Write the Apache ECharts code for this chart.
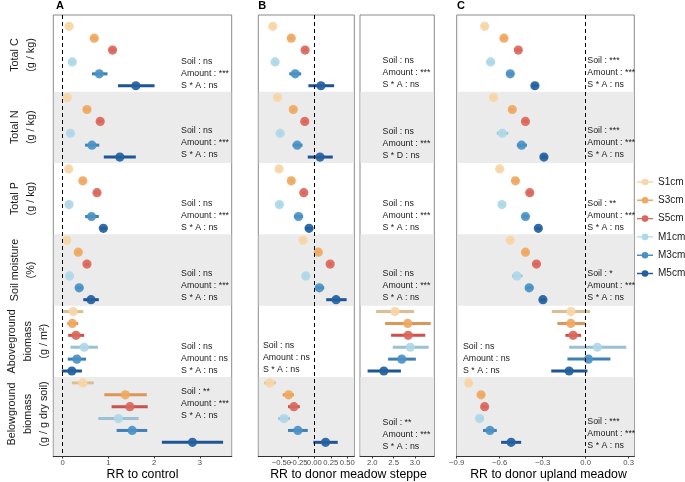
<!DOCTYPE html>
<html><head><meta charset="utf-8">
<script src="https://cdn.jsdelivr.net/npm/echarts@6/dist/echarts.min.js"></script>
<style>html,body{margin:0;padding:0;background:#fff}#c{width:685px;height:482px}</style>
</head><body><div id="c"></div>
<script>
// ---------------- data ----------------
const groups = ['S1cm', 'S3cm', 'S5cm', 'M1cm', 'M3cm', 'M5cm'];
const variables = ['Total C', 'Total N', 'Total P', 'Soil moisture', 'Aboveground biomass', 'Belowground biomass'];
const yLabelLines = [
  ['Total C', '(g / kg)'],
  ['Total N', '(g / kg)'],
  ['Total P', '(g / kg)'],
  ['Soil moisture', '(%)'],
  ['Aboveground', 'biomass', '(g / m\u00B2)'],
  ['Belowground', 'biomass', '(g / g dry soil)']
];

// Panel A: RR to control  (rows = variables, columns = groups)
const A_mean = [
  [0.14, 0.69, 1.09, 0.21, 0.80, 1.60],
  [0.10, 0.53, 0.82, 0.17, 0.64, 1.25],
  [0.13, 0.44, 0.75, 0.14, 0.63, 0.89],
  [0.09, 0.34, 0.53, 0.15, 0.36, 0.62],
  [0.23, 0.21, 0.29, 0.47, 0.31, 0.20],
  [0.44, 1.37, 1.47, 1.22, 1.52, 2.84]
];
const A_lo = [
  [0.10, 0.62, 1.02, 0.16, 0.64, 1.21],
  [0.06, 0.46, 0.75, 0.12, 0.49, 0.90],
  [0.09, 0.38, 0.69, 0.10, 0.49, 0.82],
  [0.05, 0.29, 0.48, 0.10, 0.28, 0.45],
  [0.01, 0.10, 0.12, 0.17, 0.11, -0.02],
  [0.20, 0.91, 1.07, 0.78, 1.18, 2.17]
];
const A_hi = [
  [0.18, 0.76, 1.16, 0.26, 0.98, 2.01],
  [0.14, 0.60, 0.89, 0.22, 0.80, 1.60],
  [0.17, 0.50, 0.81, 0.18, 0.79, 0.96],
  [0.13, 0.39, 0.58, 0.20, 0.45, 0.79],
  [0.45, 0.34, 0.47, 0.77, 0.51, 0.42],
  [0.68, 1.84, 1.86, 1.66, 1.85, 3.51]
];
// Panel B: RR to donor meadow steppe (values >= 1.5 sit on the broken right axis)
const B_mean = [
  [-0.63, -0.35, -0.14, -0.595, -0.29, 0.10],
  [-0.56, -0.32, -0.145, -0.52, -0.26, 0.086],
  [-0.535, -0.35, -0.16, -0.53, -0.24, -0.08],
  [-0.17, 0.06, 0.24, -0.13, 0.076, 0.33],
  [2.53, 2.83, 2.84, 2.89, 2.69, 2.27],
  [-0.675, -0.39, -0.31, -0.46, -0.25, 0.17]
];
const B_lo = [
  [-0.66, -0.38, -0.17, -0.625, -0.38, -0.09],
  [-0.59, -0.35, -0.175, -0.55, -0.33, -0.10],
  [-0.565, -0.38, -0.19, -0.56, -0.31, -0.14],
  [-0.20, 0.03, 0.21, -0.16, 0.01, 0.18],
  [2.09, 2.30, 2.44, 2.48, 2.37, 1.89],
  [-0.76, -0.48, -0.40, -0.55, -0.40, -0.015]
];
const B_hi = [
  [-0.60, -0.32, -0.11, -0.565, -0.20, 0.30],
  [-0.53, -0.29, -0.115, -0.49, -0.18, 0.28],
  [-0.505, -0.32, -0.13, -0.50, -0.17, -0.02],
  [-0.14, 0.09, 0.27, -0.10, 0.15, 0.49],
  [2.98, 3.37, 3.24, 3.32, 3.02, 2.67],
  [-0.585, -0.31, -0.22, -0.37, -0.10, 0.355]
];
// Panel C: RR to donor upland meadow
const C_mean = [
  [-0.705, -0.57, -0.47, -0.663, -0.526, -0.354],
  [-0.643, -0.512, -0.42, -0.582, -0.447, -0.291],
  [-0.60, -0.49, -0.39, -0.584, -0.42, -0.33],
  [-0.526, -0.42, -0.343, -0.48, -0.394, -0.298],
  [-0.103, -0.103, -0.087, 0.082, 0.02, -0.115],
  [-0.817, -0.73, -0.705, -0.74, -0.668, -0.52]
];
const C_lo = [
  [-0.725, -0.59, -0.49, -0.69, -0.55, -0.375],
  [-0.663, -0.532, -0.44, -0.62, -0.48, -0.311],
  [-0.62, -0.51, -0.41, -0.604, -0.44, -0.35],
  [-0.546, -0.44, -0.363, -0.514, -0.42, -0.318],
  [-0.236, -0.197, -0.141, -0.115, -0.127, -0.24],
  [-0.84, -0.747, -0.725, -0.765, -0.716, -0.59]
];
const C_hi = [
  [-0.685, -0.55, -0.45, -0.636, -0.502, -0.333],
  [-0.623, -0.492, -0.40, -0.54, -0.41, -0.271],
  [-0.58, -0.47, -0.37, -0.564, -0.40, -0.31],
  [-0.506, -0.40, -0.323, -0.44, -0.364, -0.278],
  [0.031, -0.003, -0.031, 0.284, 0.173, 0.013],
  [-0.79, -0.707, -0.685, -0.71, -0.62, -0.45]
];

// significance annotations (per variable: Soil, Amount, interaction)
const A_ann = [
  ['Soil : ns', 'Amount : ***', 'S * A : ns'],
  ['Soil : ns', 'Amount : ***', 'S * A : ns'],
  ['Soil : ns', 'Amount : ***', 'S * A : ns'],
  ['Soil : ns', 'Amount : ***', 'S * A : ns'],
  ['Soil : ns', 'Amount : ns', 'S * A : ns'],
  ['Soil : **', 'Amount : ***', 'S * A : ns']
];
const B_ann = [
  ['Soil : ns', 'Amount : ***', 'S * A : ns'],
  ['Soil : ns', 'Amount : ***', 'S * D : ns'],
  ['Soil : ns', 'Amount : ***', 'S * A : ns'],
  ['Soil : ns', 'Amount : ***', 'S * A : ns'],
  ['Soil : ns', 'Amount : ns', 'S * A : ns'],
  ['Soil : **', 'Amount : ***', 'S * A : ns']
];
const C_ann = [
  ['Soil : ***', 'Amount : ***', 'S * A : ns'],
  ['Soil : ***', 'Amount : ***', 'S * A : ns'],
  ['Soil : **', 'Amount : ***', 'S * A : ns'],
  ['Soil : *', 'Amount : ***', 'S * A : ns'],
  ['Soil : ns', 'Amount : ns', 'S * A : ns'],
  ['Soil : ***', 'Amount : ***', 'S * A : ns']
];
const A_annX = [2.59, 2.59, 2.59, 2.59, 2.59, 2.59];
const B_annX = [2.24, 2.24, 2.24, 2.24, -0.78, 2.24];
const C_annX = [0.012, 0.012, 0.012, 0.012, -0.856, 0.012];
const A_annY = [3.98, 9.78, 15.95, 21.81, 27.95, 31.74];
const B_annY = [3.89, 9.83, 15.95, 21.78, 27.9, 34.35];
const C_annY = [3.92, 9.78, 15.95, 21.78, 27.95, 34.26];

const ticksA = [0, 1, 2, 3];
const ticksB1 = [-0.5, -0.25, 0, 0.25, 0.5];
const ticksB1_main = [-0.5, 0, 0.25, 0.5];
const ticksB1_extra = [-0.25];
const ticksB2 = [2.0, 2.5, 3.0];
const ticksC = [-0.9, -0.6, -0.3, 0, 0.3];

// ---------------- styles ----------------
const ptColors = ['#F7D6A6', '#F0A862', '#DB675C', '#AFD8E8', '#4A92C6', '#22609F'];
const barColors = ['#DDBD93', '#DC9655', '#C9524B', '#9AC2D2', '#3E80B4', '#1E5694'];
const FONT = 'Liberation Sans, Arial, Helvetica, sans-serif';
const Y_MIN = 0.05, Y_MAX = 37.15;

const panels = [
  {grid: {left: 53.3, top: 15, width: 178.4, height: 441}, min: -0.206, max: 3.698, ticks: ticksA, labels: ticksA, dec: 0, zero: true,
   mean: A_mean, lo: A_lo, hi: A_hi, ann: A_ann, annX: A_annX, annY: A_annY, sel: v => true},
  {grid: {left: 258.3, top: 15, width: 96, height: 441}, min: -0.85, max: 0.606, ticks: ticksB1, labels: ticksB1_main, dec: 2, zero: true,
   mean: B_mean, lo: B_lo, hi: B_hi, ann: B_ann, annX: B_annX, annY: B_annY, sel: v => v < 1.5},
  {grid: {left: 360, top: 15, width: 74.3, height: 441}, min: 1.712, max: 3.452, ticks: ticksB2, labels: ticksB2, dec: 1, zero: false,
   mean: B_mean, lo: B_lo, hi: B_hi, ann: B_ann, annX: B_annX, annY: B_annY, sel: v => v >= 1.5},
  {grid: {left: 456.7, top: 15, width: 177.6, height: 441}, min: -0.9, max: 0.34, ticks: ticksC, labels: ticksC, dec: 1, zero: true,
   mean: C_mean, lo: C_lo, hi: C_hi, ann: C_ann, annX: C_annX, annY: C_annY, sel: v => true}
];

const grids = [], xAxes = [], yAxes = [], series = [];
const bands = [[6.5, 12.5], [18.5, 24.5], [30.5, Y_MAX]];
const fmt = dec => v => (v < -1e-9 ? '\u2212' : '') + Math.abs(v).toFixed(dec);
const labelStyle = {hideOverlap: false, showMinLabel: true, showMaxLabel: true,
  fontSize: 7.7, color: '#4d4d4d', margin: 2.5, fontFamily: FONT};

panels.forEach((p, gi) => {
  grids.push(Object.assign({show: true, borderColor: '#8a8a8a', borderWidth: 1, backgroundColor: 'transparent'}, p.grid));
  xAxes.push({
    type: 'value', gridIndex: gi, min: p.min, max: p.max,
    splitLine: {show: false},
    axisLine: {show: true, onZero: false, lineStyle: {color: '#333', width: 1.2}},
    axisTick: {show: true, length: 2.5, lineStyle: {color: '#333'}, customValues: p.ticks},
    axisLabel: Object.assign({customValues: p.labels, formatter: fmt(p.dec)}, labelStyle)
  });
  yAxes.push({type: 'value', gridIndex: gi, inverse: true, min: Y_MIN, max: Y_MAX, show: false});

  // gray bands + dashed zero line
  series.push({
    type: 'custom', name: 'bg' + gi, xAxisIndex: gi, yAxisIndex: gi, z: 1, silent: true,
    data: bands.map(b => [p.min, b[0], b[1]]),
    encode: {x: 0, y: [1, 2]},
    renderItem: (params, api) => {
      const cs = params.coordSys;
      const y0 = api.coord([p.min, api.value(1)])[1];
      const y1 = Math.min(api.coord([p.min, api.value(2)])[1], cs.y + cs.height);
      return {type: 'rect', shape: {x: cs.x + 0.5, y: y0, width: cs.width - 1, height: y1 - y0}, style: {fill: '#EBEBEB'}};
    },
    markLine: p.zero ? {
      silent: true, symbol: 'none', label: {show: false},
      lineStyle: {color: '#000', type: [4, 3], width: 1},
      data: [{xAxis: 0}]
    } : undefined
  });

  // error bars and points per group
  groups.forEach((g, k) => {
    const data = [];
    variables.forEach((v, vi) => {
      const m = p.mean[vi][k];
      if (p.sel(m)) data.push([m, vi * 6 + k + 1, p.lo[vi][k], p.hi[vi][k]]);
    });
    series.push({
      type: 'custom', name: g, xAxisIndex: gi, yAxisIndex: gi, z: 3,
      itemStyle: {color: ptColors[k]},
      data: data, encode: {x: [0, 2, 3], y: 1},
      renderItem: (params, api) => {
        const y = api.value(1);
        const c = api.coord([api.value(0), y]);
        const a = api.coord([api.value(2), y]);
        const b = api.coord([api.value(3), y]);
        return {type: 'group', children: [
          {type: 'line', shape: {x1: a[0], y1: a[1], x2: b[0], y2: b[1]}, style: {stroke: barColors[k], lineWidth: 3}},
          {type: 'circle', shape: {cx: c[0], cy: c[1], r: 4.6}, style: {fill: ptColors[k], opacity: 0.92}}
        ]};
      }
    });
  });

  // annotation texts
  const adata = [];
  p.ann.forEach((lines, vi) => {
    if (!p.sel(p.annX[vi])) return;
    lines.forEach((t, li) => adata.push([p.annX[vi], p.annY[vi] + li * 1.01, vi, li]));
  });
  series.push({
    type: 'custom', name: 'ann' + gi, xAxisIndex: gi, yAxisIndex: gi, z: 4, silent: true,
    data: adata, encode: {x: 0, y: 1},
    renderItem: (params, api) => {
      const c = api.coord([api.value(0), api.value(1)]);
      return {type: 'text', x: c[0], y: c[1], style: {
        text: p.ann[api.value(2)][api.value(3)], fontSize: 8.8, fill: '#1a1a1a',
        fontFamily: FONT, align: 'left', verticalAlign: 'middle'}};
    }
  });
});

// extra label-only axis on panel B (left) so the crowded -0.25 label is not dropped
xAxes.push({
  type: 'value', gridIndex: 1, min: panels[1].min, max: panels[1].max, position: 'bottom',
  splitLine: {show: false}, axisLine: {show: false}, axisTick: {show: false},
  axisLabel: Object.assign({customValues: ticksB1_extra, formatter: fmt(2)}, labelStyle)
});

// ---------------- graphic text (axis titles, panel tags, row labels) ----------------
const graphic = [];
const tags = [['A', 60, 6], ['B', 262.3, 6], ['C', 461, 6]];
tags.forEach(t => graphic.push({type: 'text', x: t[1], y: t[2], style: {text: t[0], fontSize: 11, fontWeight: 'bold', fill: '#000', fontFamily: FONT, align: 'center', verticalAlign: 'middle'}}));
const titles = [['RR to control', 142.5], ['RR to donor meadow steppe', 348.5], ['RR to donor upland meadow', 548.5]];
titles.forEach(t => graphic.push({type: 'text', x: t[1], y: 474.5, style: {text: t[0], fontSize: 12.3, fill: '#000', fontFamily: FONT, align: 'center', verticalAlign: 'middle'}}));
const bandCenters = [55, 127.3, 198.6, 270, 341.3, 414];
const labelCols = {2: [15, 31], 3: [12, 28, 44]};
yLabelLines.forEach((lines, vi) => {
  const cols = labelCols[lines.length];
  lines.forEach((t, li) => {
    graphic.push({type: 'text', x: cols[li], y: bandCenters[vi], rotation: Math.PI / 2,
      style: {text: t, fontSize: 10.8, fill: '#1a1a1a', fontFamily: FONT, align: 'center', verticalAlign: 'middle'}});
  });
});

const chart = echarts.init(document.getElementById('c'), null, {renderer: 'canvas'});
chart.setOption({
  animation: false,
  backgroundColor: '#fff',
  textStyle: {fontFamily: FONT},
  grid: grids, xAxis: xAxes, yAxis: yAxes, series: series,
  legend: {
    data: groups, orient: 'vertical', left: 637, top: 177, padding: 0,
    itemWidth: 16, itemHeight: 8, itemGap: 8.3, itemStyle: {opacity: 1},
    icon: 'path://M0,3.3 L16,3.3 L16,4.7 L0,4.7 Z M4.7,4 A3.3,3.3 0 1 1 11.3,4 A3.3,3.3 0 1 1 4.7,4 Z',
    textStyle: {fontSize: 10, color: '#1a1a1a', fontFamily: FONT}
  },
  graphic: graphic
});
</script></body></html>
